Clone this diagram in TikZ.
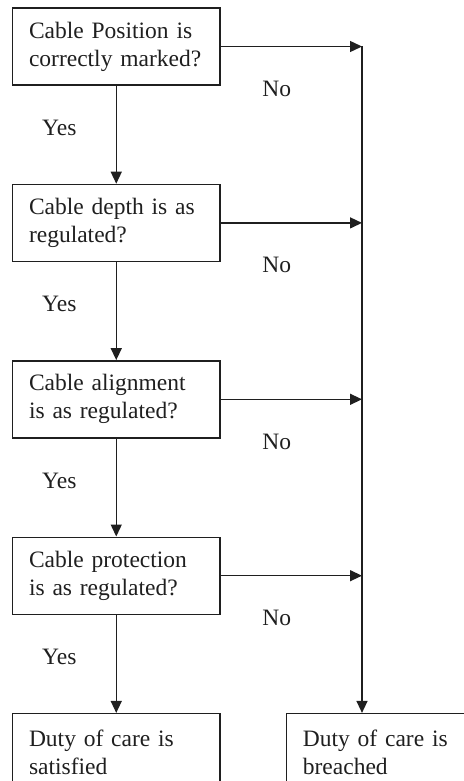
\documentclass[tikz,border=0pt]{standalone}
\usepackage{fontspec}
\setmainfont{Liberation Serif}
\usepackage{tikz}
\usetikzlibrary{positioning,arrows.meta}

\begin{document}
\begin{tikzpicture}[
  check/.style={draw, line width=1.4pt, text width=174.5pt, inner xsep=16.5pt, align=left, minimum height=77pt, font=\fontsize{23.5}{28}\selectfont},
  lbl/.style={font=\fontsize{23.5}{28}\selectfont, inner sep=0pt, anchor=base},
  flow/.style={-{Triangle[length=12pt,width=11pt]}, line width=1.4pt},
  color=black!88,
  node distance=98pt]
\useasboundingbox (0,0) rectangle (463pt,-781pt);
\node[check] (q1) at (116.25pt,-46.5pt) {Cable Position is\\correctly marked?};
\node[check, below=of q1] (q2) {Cable depth is as\\regulated?};
\node[check, below=of q2] (q3) {Cable alignment\\is as regulated?};
\node[check, below=of q3] (q4) {Cable protection\\is as regulated?};
\node[check, below=of q4] (sat) {Duty of care is\\satisfied};
\node[check, right=65pt of sat] (breach) {Duty of care is\\breached};
\coordinate (rail) at (362pt,0pt);
\foreach \a/\b in {q1/q2,q2/q3,q3/q4,q4/sat}
  \draw[flow] (\a) -- (\b);
\foreach \i in {1,...,4} {
  \draw[flow] (q\i.east) -- (q\i.east -| rail);
  \node[lbl] (no\i) at ([xshift=56pt,yshift=-10.5pt]q\i.south east) {No};
  \node[lbl] (yes\i) at ([xshift=47.5pt,yshift=-49.5pt]q\i.south west) {Yes};
}
\draw[flow] (q1.east -| rail) -- (breach.north -| rail);
\end{tikzpicture}
\end{document}
